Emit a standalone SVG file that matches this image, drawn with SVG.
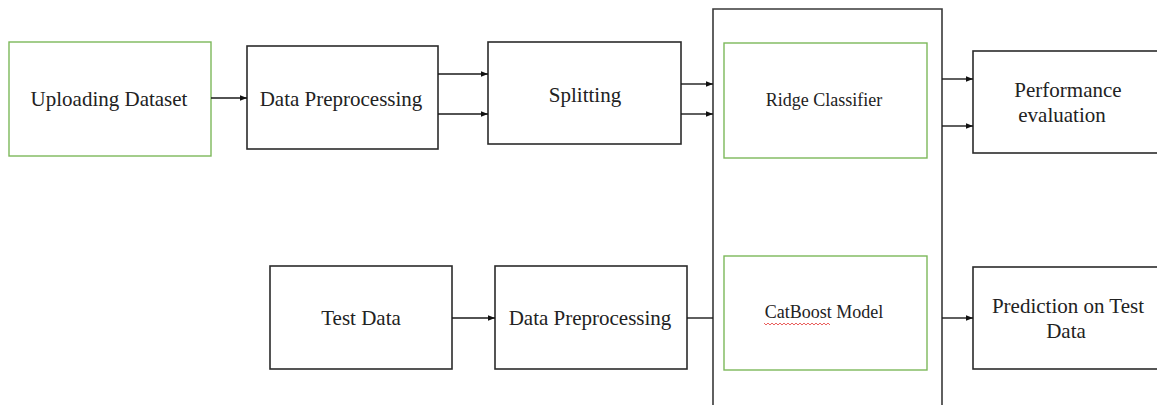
<svg xmlns="http://www.w3.org/2000/svg" width="1157" height="405" viewBox="0 0 1157 405">
<defs>
<marker id="ah" viewBox="0 0 10 10" refX="10" refY="5" markerWidth="7" markerHeight="7" markerUnits="userSpaceOnUse" orient="auto">
<path d="M0,1 L10,5 L0,9 z" fill="#111"/>
</marker>
<style>
.box{fill:#fff;stroke:#2b2b2b;stroke-width:1.6}
.gbox{fill:#fff;stroke:#7cb85a;stroke-width:1.4}
.cont{fill:none;stroke:#3a3a3a;stroke-width:1.6}
.t{font-family:"Liberation Serif","Times New Roman",serif;font-size:21px;fill:#222;text-anchor:middle}
.s{font-size:18px}
.c{stroke:#1a1a1a;stroke-width:1.4;fill:none}
</style>
</defs>
<rect width="1157" height="405" fill="#fff"/>
<g id="container">
<path class="cont" d="M713,412 V9 H942 V412"/>
</g>
<g id="uploading">
<rect class="gbox" x="9" y="42" width="202" height="114"/>
<text class="t" x="109" y="106">Uploading Dataset</text>
</g>
<g id="preproc1">
<rect class="box" x="247" y="46" width="191" height="103"/>
<text class="t" x="341" y="106">Data Preprocessing</text>
</g>
<g id="splitting">
<rect class="box" x="488" y="42" width="193" height="102"/>
<text class="t" x="585" y="102">Splitting</text>
</g>
<g id="ridge">
<rect class="gbox" x="724" y="43" width="203" height="115"/>
<text class="t s" x="824" y="106">Ridge Classifier</text>
</g>
<g id="performance">
<rect class="box" x="973" y="51" width="190" height="102"/>
<text class="t" x="1068" y="97">Performance</text>
<text class="t" x="1062" y="122">evaluation</text>
</g>
<g id="testdata">
<rect class="box" x="270" y="266" width="182" height="103"/>
<text class="t" x="361" y="325">Test Data</text>
</g>
<g id="preproc2">
<rect class="box" x="495" y="266" width="192" height="103"/>
<text class="t" x="590" y="325">Data Preprocessing</text>
</g>
<g id="catboost">
<rect class="gbox" x="724" y="256" width="203" height="114"/>
<text class="t s" x="824" y="318">CatBoost Model</text>
<path d="M764,323 l2,2 l2,-2 l2,2 l2,-2 l2,2 l2,-2 l2,2 l2,-2 l2,2 l2,-2 l2,2 l2,-2 l2,2 l2,-2 l2,2 l2,-2 l2,2 l2,-2 l2,2 l2,-2 l2,2 l2,-2 l2,2 l2,-2 l2,2 l2,-2 l2,2 l2,-2 l2,2 l2,-2 l2,2 l2,-2 l2,2" fill="none" stroke="#e53935" stroke-width="0.8"/>
</g>
<g id="prediction">
<rect class="box" x="973" y="267" width="190" height="102"/>
<text class="t" x="1068" y="313">Prediction on Test</text>
<text class="t" x="1066" y="338">Data</text>
</g>
<g id="connectors">
<line class="c" x1="211" y1="98" x2="247" y2="98" marker-end="url(#ah)"/>
<line class="c" x1="438" y1="74" x2="488" y2="74" marker-end="url(#ah)"/>
<line class="c" x1="438" y1="114" x2="488" y2="114" marker-end="url(#ah)"/>
<line class="c" x1="681" y1="84" x2="713" y2="84" marker-end="url(#ah)"/>
<line class="c" x1="681" y1="114" x2="713" y2="114" marker-end="url(#ah)"/>
<line class="c" x1="942" y1="79" x2="973" y2="79" marker-end="url(#ah)"/>
<line class="c" x1="942" y1="126" x2="973" y2="126" marker-end="url(#ah)"/>
<line class="c" x1="452" y1="318" x2="495" y2="318" marker-end="url(#ah)"/>
<line class="c" x1="687" y1="318" x2="713" y2="318"/>
<line class="c" x1="942" y1="318" x2="973" y2="318" marker-end="url(#ah)"/>
</g>
</svg>
